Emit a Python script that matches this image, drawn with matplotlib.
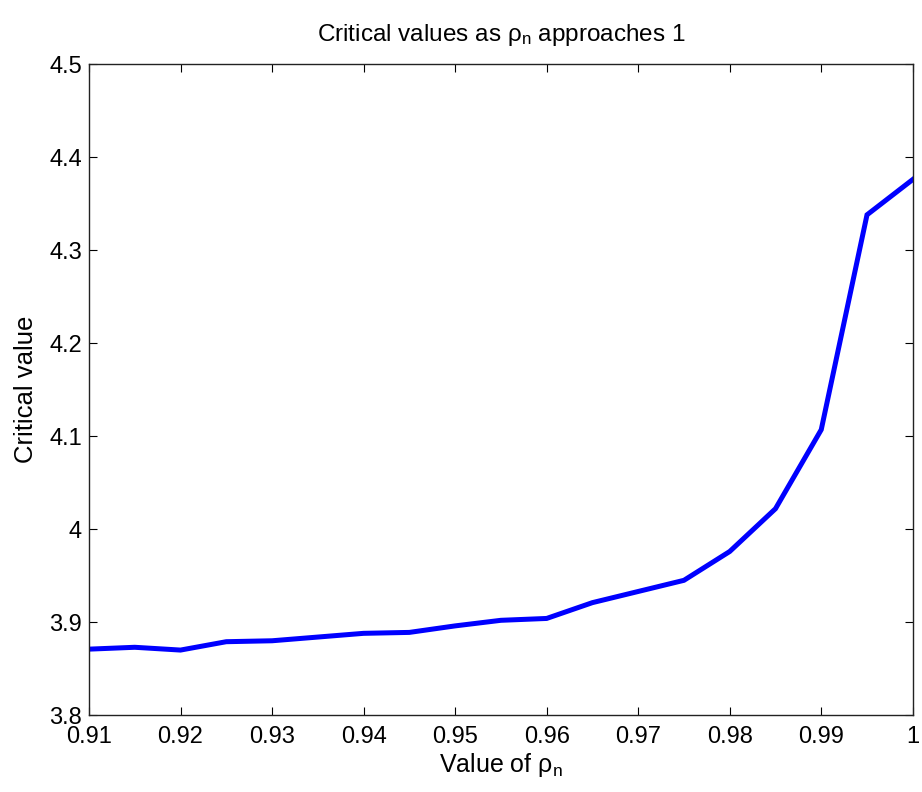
import matplotlib
matplotlib.use("Agg")
import matplotlib.pyplot as plt

# critical values, rho_n from 0.91 to 1 in steps of 0.005
rho = [0.91, 0.915, 0.92, 0.925, 0.93, 0.935, 0.94, 0.945, 0.95, 0.955,
       0.96, 0.965, 0.97, 0.975, 0.98, 0.985, 0.99, 0.995, 1.0]
crit = [3.871, 3.873, 3.870, 3.879, 3.880, 3.884, 3.888, 3.889, 3.896, 3.902,
        3.904, 3.921, 3.933, 3.945, 3.976, 4.022, 4.107, 4.338, 4.376]

xticks = [0.91, 0.92, 0.93, 0.94, 0.95, 0.96, 0.97, 0.98, 0.99, 1.0]
xticklabels = ["0.91", "0.92", "0.93", "0.94", "0.95", "0.96", "0.97", "0.98", "0.99", "1"]
yticks = [3.8, 3.9, 4.0, 4.1, 4.2, 4.3, 4.4, 4.5]
yticklabels = ["3.8", "3.9", "4", "4.1", "4.2", "4.3", "4.4", "4.5"]

plt.rcParams["font.family"] = ["Liberation Sans", "DejaVu Sans"]
plt.rcParams["mathtext.fontset"] = "custom"
plt.rcParams["mathtext.rm"] = "Liberation Sans"
plt.rcParams["mathtext.it"] = "Liberation Sans"

fig = plt.figure(figsize=(9.22, 7.92), dpi=100)
ax = fig.add_axes([0.0965, 0.097, 0.8935, 0.822])

ax.plot(rho, crit, color="#0000ff", linewidth=3.6, solid_joinstyle="miter")

ax.set_xlim(0.91, 1.0)
ax.set_ylim(3.8, 4.5)
ax.set_xticks(xticks)
ax.set_xticklabels(xticklabels)
ax.set_yticks(yticks)
ax.set_yticklabels(yticklabels)

#matlab style ticks: inside, on every side
ax.tick_params(axis="both", direction="in", length=6, width=0.8, labelsize=17,
               top=True, right=True)
ax.tick_params(axis="x", pad=8)
ax.tick_params(axis="y", pad=5)
for s in ax.spines.values():
    s.set_linewidth(1.0)
    s.set_color("#222222")

ax.set_title("Critical values as ρ$_{\\mathrm{n}}$ approaches 1", fontsize=17.5, pad=17)
ax.set_xlabel("Value of ρ$_{\\mathrm{n}}$", fontsize=18, labelpad=2)
ax.set_ylabel("Critical value", fontsize=18.5, labelpad=8)

fig.savefig("out.png", dpi=100)
